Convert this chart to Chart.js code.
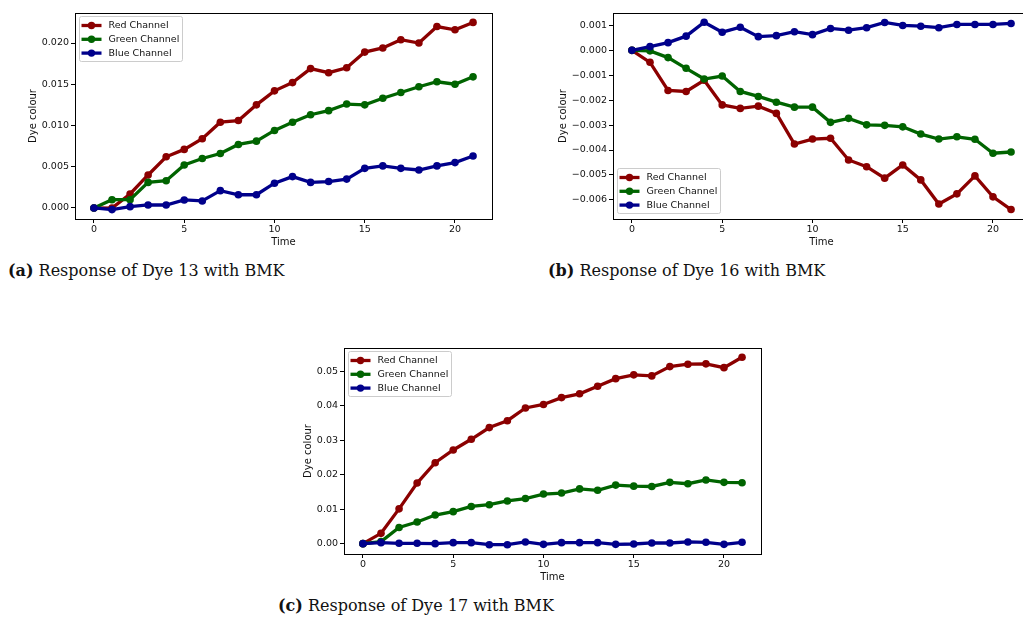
<!DOCTYPE html>
<html>
<head>
<meta charset="utf-8">
<script src="https://cdn.jsdelivr.net/npm/chart.js@4/dist/chart.umd.min.js"></script>
<style>
  body { margin: 0; background: #fff; width: 1023px; height: 617px; overflow: hidden; position: relative; }
  canvas { position: absolute; }
  .cap { position: absolute; font-family: "DejaVu Serif", serif; font-size: 16px; color: #111; white-space: nowrap; line-height: 20px; }
</style>
</head>
<body>
<canvas id="chartA" width="510" height="255" style="left:0;top:0"></canvas>
<canvas id="chartB" width="510" height="255" style="left:530px;top:0"></canvas>
<canvas id="chartC" width="510" height="255" style="left:270px;top:335px"></canvas>
<div class="cap" style="left:8px;top:261px"><b>(a)</b> Response of Dye 13 with BMK</div>
<div class="cap" style="left:548px;top:261px"><b>(b)</b> Response of Dye 16 with BMK</div>
<div class="cap" style="left:278px;top:596px"><b>(c)</b> Response of Dye 17 with BMK</div>
<script>
// time steps (x axis)
const time = [0, 1, 2, 3, 4, 5, 6, 7, 8, 9, 10, 11, 12, 13, 14, 15, 16, 17, 18, 19, 20, 21];
const timeTicks = [0, 5, 10, 15, 20];
const channelNames = ['Red Channel', 'Green Channel', 'Blue Channel'];

// (a) Dye 13
const redA = [0, -0.00002, 0.0017, 0.0040, 0.0062, 0.0071, 0.0084, 0.0104, 0.0106, 0.0125, 0.0142, 0.0152,
  0.0169, 0.0164, 0.0170, 0.0189, 0.0194, 0.0204, 0.0200, 0.0220, 0.0216, 0.0225];
const greenA = [0, 0.0010, 0.0010, 0.0031, 0.0033, 0.0052, 0.0060, 0.0066, 0.0077, 0.0081, 0.0094, 0.0104,
  0.0113, 0.0118, 0.0126, 0.0125, 0.0133, 0.0140, 0.0147, 0.0153, 0.0150, 0.0159];
const blueA = [0, -0.0002, 0.00016, 0.00036, 0.00036, 0.00097, 0.00085, 0.0021, 0.0016, 0.0016, 0.0030, 0.0038,
  0.0031, 0.0032, 0.0035, 0.0048, 0.0051, 0.0048, 0.0046, 0.0051, 0.0055, 0.0063];
const yTicksA = [0, 0.005, 0.010, 0.015, 0.020];

// (b) Dye 16
const redB = [0, -0.00048, -0.00161, -0.00165, -0.0012, -0.00219, -0.00233, -0.00224, -0.00253, -0.00376, -0.00356, -0.00353,
  -0.0044, -0.00467, -0.00513, -0.0046, -0.0052, -0.00617, -0.00576, -0.00504, -0.00588, -0.00639];
const greenB = [0, -0.00002, -0.00029, -0.00072, -0.00115, -0.00103, -0.00165, -0.00185, -0.00208, -0.00228, -0.00228, -0.00289,
  -0.00273, -0.00299, -0.00301, -0.00307, -0.00336, -0.00356, -0.00347, -0.00357, -0.00413, -0.00408];
const blueB = [0, 0.00015, 0.00031, 0.00057, 0.00113, 0.00073, 0.00093, 0.00055, 0.00059, 0.00075, 0.00063, 0.00088,
  0.00081, 0.00091, 0.00112, 0.00100, 0.00097, 0.00091, 0.00104, 0.00104, 0.00104, 0.00108];
const yTicksB = [0.001, 0, -0.001, -0.002, -0.003, -0.004, -0.005, -0.006];

// (c) Dye 17
const redC = [0, 0.0030, 0.0101, 0.0176, 0.0235, 0.0272, 0.0303, 0.0337, 0.0357, 0.0394, 0.0404, 0.0424,
  0.0435, 0.0457, 0.0479, 0.0490, 0.0487, 0.0514, 0.0521, 0.0522, 0.0511, 0.0541];
const greenC = [0, 0.0006, 0.0047, 0.0063, 0.0083, 0.0093, 0.0108, 0.0113, 0.0124, 0.0131, 0.0144, 0.0147,
  0.0159, 0.0155, 0.0170, 0.0167, 0.0166, 0.0178, 0.0174, 0.0185, 0.0178, 0.0177];
const blueC = [0, 0.0003, 0.0001, 0.0001, 0, 0.0003, 0.0003, -0.0003, -0.0003, 0.0005, -0.0002, 0.0003,
  0.0003, 0.0003, -0.0002, -0.0001, 0.0002, 0.0002, 0.0005, 0.0004, -0.0002, 0.0004];
const yTicksC = [0, 0.01, 0.02, 0.03, 0.04, 0.05];

const colours = ['#8b0000', '#006400', '#00008b'];
const tickFont = { family: 'DejaVu Sans', size: 9.5 };

// axes frame + matplotlib style legend box
const framePlugin = {
  id: 'frameLegend',
  afterDatasetsDraw(chart, args, opts) {
    const ctx = chart.ctx, a = chart.chartArea;
    ctx.save();
    ctx.strokeStyle = '#000';
    ctx.lineWidth = 1;
    ctx.strokeRect(Math.round(a.left) + 0.5, Math.round(a.top) + 0.5,
      Math.round(a.right - a.left), Math.round(a.bottom - a.top));

    const w = 103, h = 45;
    const x = Math.round(a.left) + 4.5;
    const y = opts.corner === 'bottom' ? Math.round(a.bottom) - 5.5 - h : Math.round(a.top) + 3.5;
    ctx.beginPath();
    ctx.roundRect(x, y, w, h, 2);
    ctx.fillStyle = 'rgba(255,255,255,0.8)';
    ctx.fill();
    ctx.strokeStyle = '#cccccc';
    ctx.stroke();
    chart.data.datasets.forEach((ds, i) => {
      const cy = y + 9 + i * 13.8;
      ctx.strokeStyle = ds.borderColor;
      ctx.lineWidth = 3.3;
      ctx.beginPath();
      ctx.moveTo(x + 2, cy);
      ctx.lineTo(x + 22, cy);
      ctx.stroke();
      ctx.fillStyle = ds.borderColor;
      ctx.beginPath();
      ctx.arc(x + 12, cy, 3.7, 0, Math.PI * 2);
      ctx.fill();
      ctx.fillStyle = '#111';
      ctx.font = '9.5px "DejaVu Sans"';
      ctx.textBaseline = 'middle';
      ctx.fillText(ds.label, x + 29, cy + 0.5);
    });
    ctx.restore();
  }
};

function makeChart(id, series, yTicks, decimals, yMin, yMax, pad, yWidth, corner) {
  const datasets = series.map((vals, i) => ({
    label: channelNames[i],
    data: time.map((t, j) => ({ x: t, y: vals[j] })),
    borderColor: colours[i],
    backgroundColor: colours[i],
    pointBackgroundColor: colours[i],
    pointBorderWidth: 0,
    pointRadius: 3.8,
    borderWidth: 3.3,
    tension: 0,
    order: 2 - i
  }));
  return new Chart(document.getElementById(id), {
    type: 'line',
    data: { datasets },
    options: {
      responsive: false,
      animation: false,
      events: [],
      layout: { padding: pad },
      plugins: {
        legend: { display: false },
        tooltip: { enabled: false },
        frameLegend: { corner }
      },
      scales: {
        x: {
          type: 'linear',
          min: -1.05,
          max: 22.05,
          afterBuildTicks: s => { s.ticks = timeTicks.map(v => ({ value: v })); },
          afterFit: s => { s.height = 29; },
          border: { display: false },
          grid: { drawOnChartArea: false, tickLength: 4, tickColor: '#000', tickWidth: 1 },
          ticks: { font: tickFont, color: '#111', padding: 1, maxRotation: 0 },
          title: { display: true, text: 'Time', font: { family: 'DejaVu Sans', size: 10 }, color: '#111', padding: 0 }
        },
        y: {
          min: yMin,
          max: yMax,
          afterBuildTicks: s => { s.ticks = yTicks.map(v => ({ value: v })); },
          afterFit: s => { s.width = yWidth; },
          border: { display: false },
          grid: { drawOnChartArea: false, tickLength: 4, tickColor: '#000', tickWidth: 1 },
          ticks: {
            font: tickFont, color: '#111', padding: 2,
            callback: v => v.toFixed(decimals).replace('-', '\u2212')
          },
          title: { display: true, text: 'Dye colour', font: { family: 'DejaVu Sans', size: 10 }, color: '#111', padding: 0 }
        }
      }
    },
    plugins: [framePlugin]
  });
}

makeChart('chartA', [redA, greenA, blueA], yTicksA, 3, -0.00134, 0.02364,
  { left: 27, top: 13, right: 18, bottom: 7 }, 48, 'top');
makeChart('chartB', [redB, greenB, blueB], yTicksB, 3, -0.00677, 0.0015,
  { left: 27, top: 13, right: 10, bottom: 7 }, 56, 'bottom');
makeChart('chartC', [redC, greenC, blueC], yTicksC, 2, -0.0030, 0.0568,
  { left: 32, top: 13, right: 19, bottom: 7 }, 42, 'top');
</script>
</body>
</html>
